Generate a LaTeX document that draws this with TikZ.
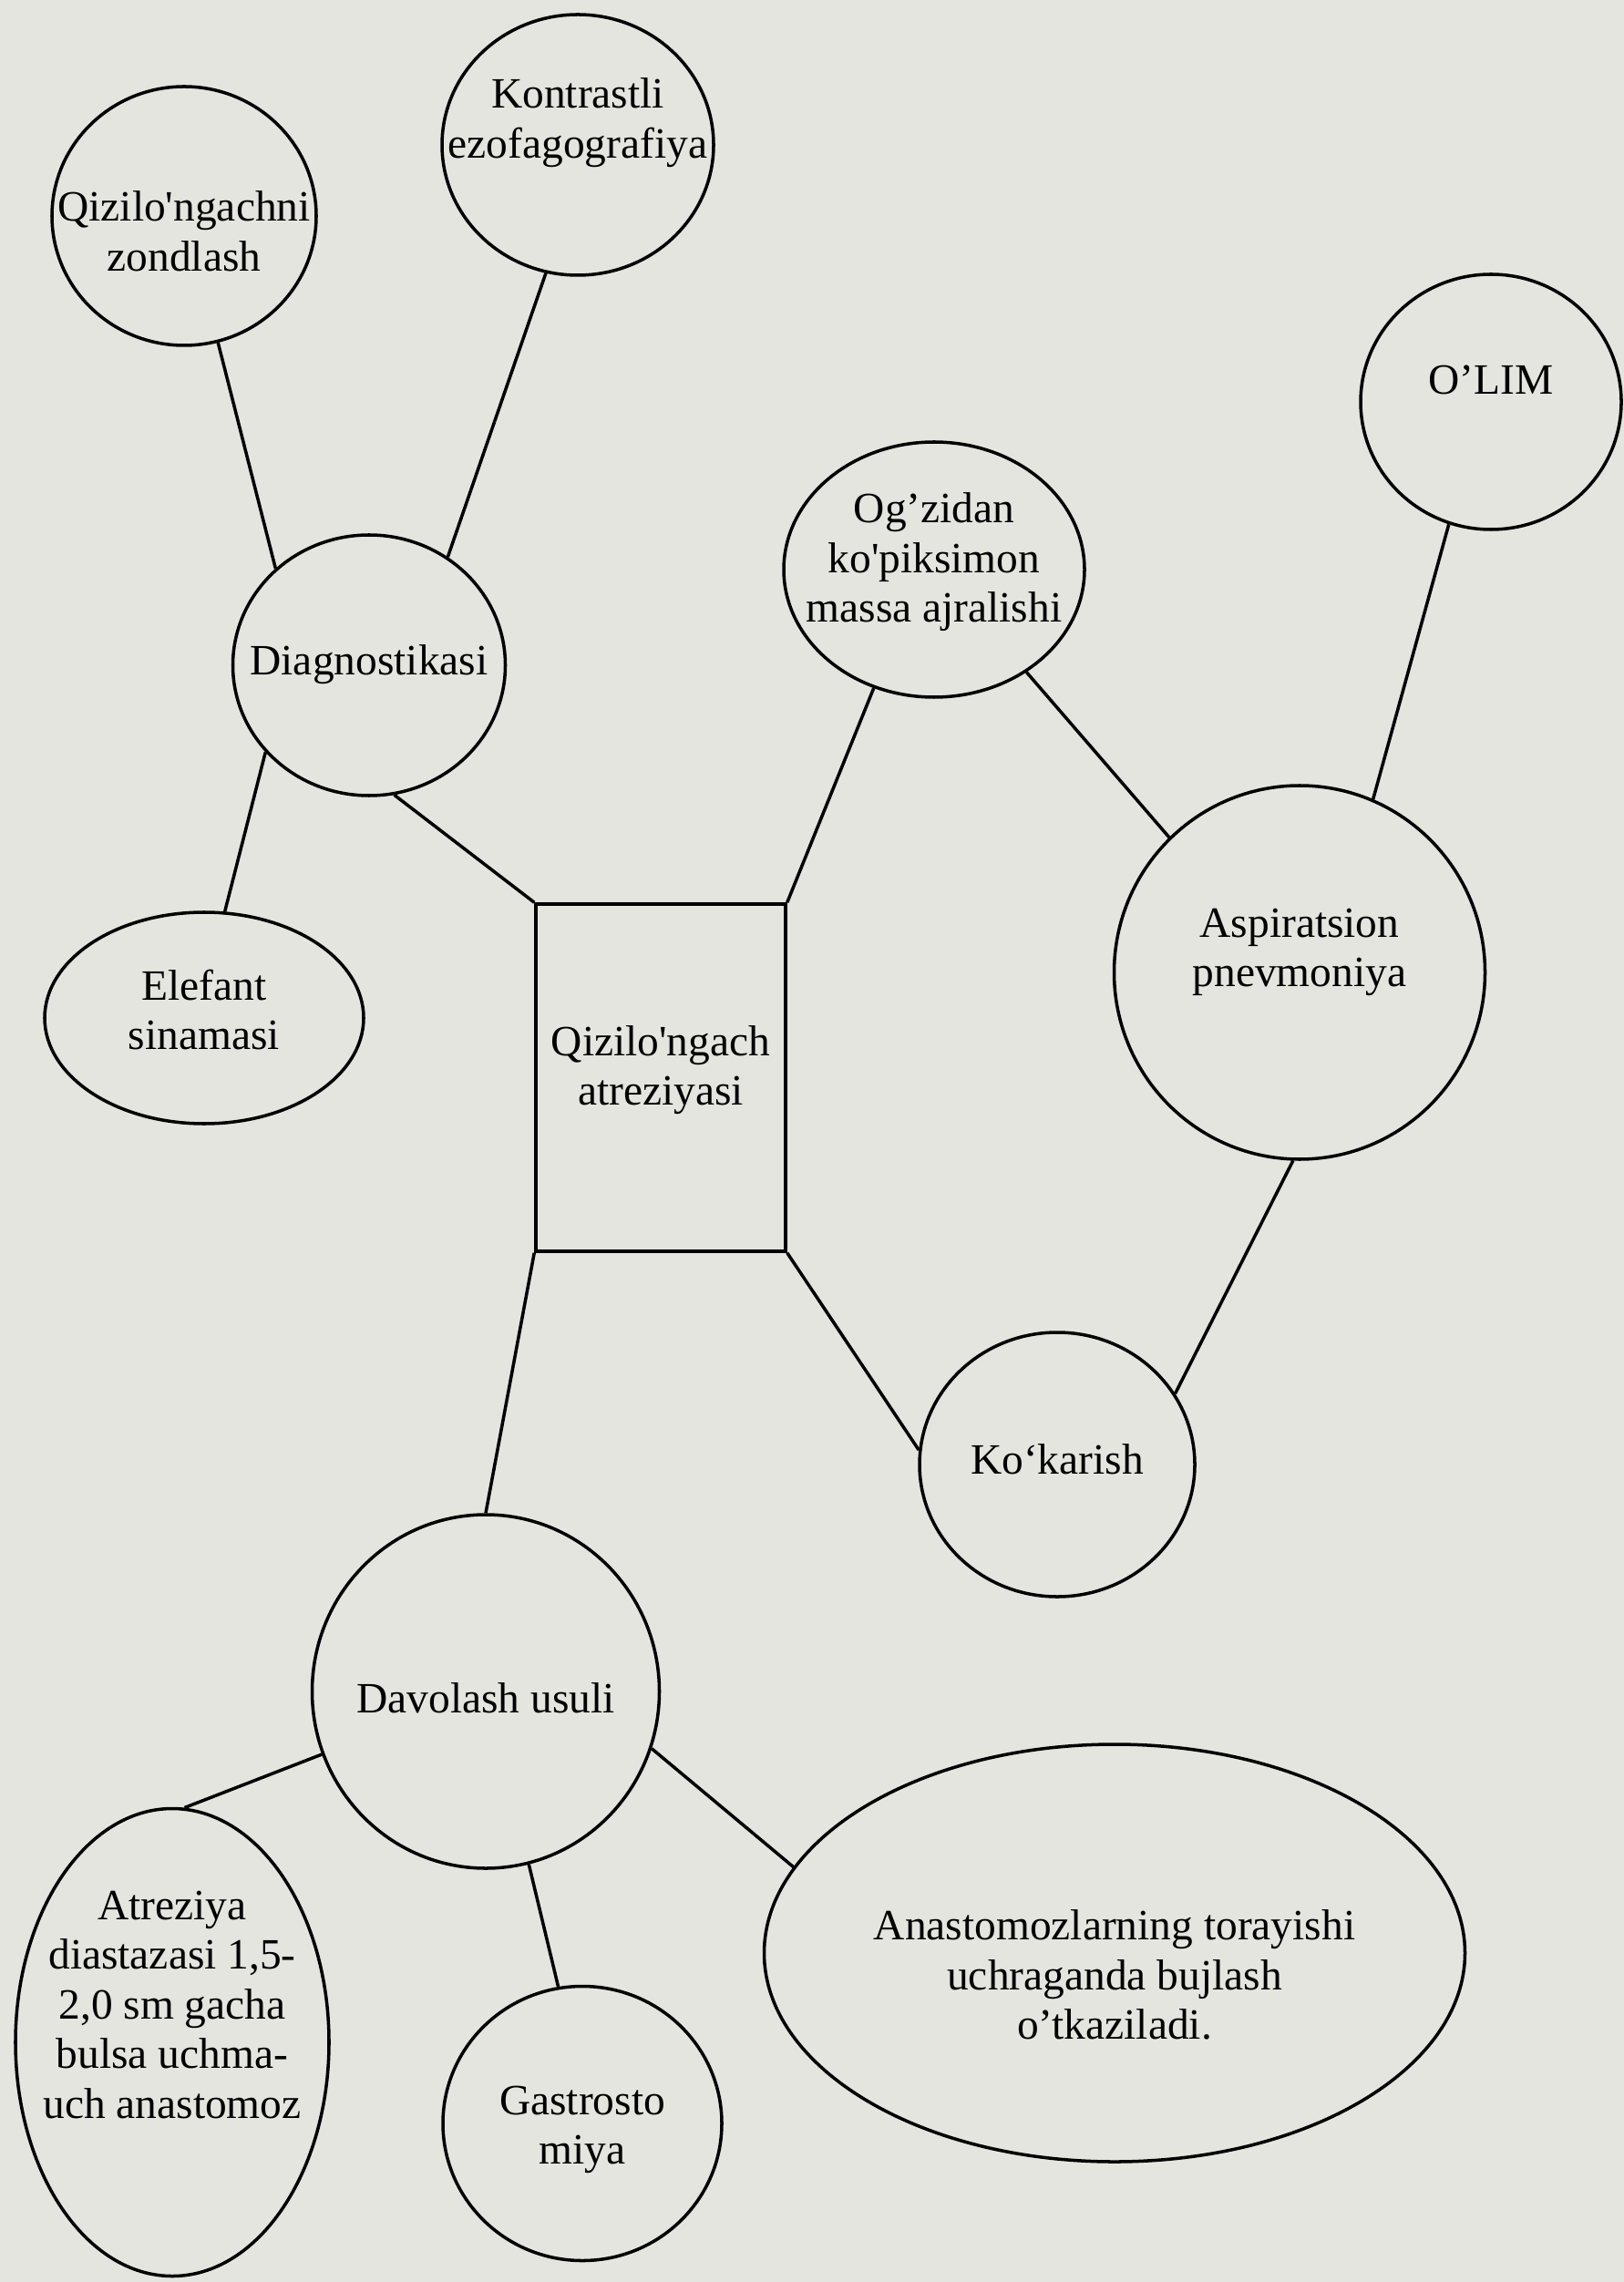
\documentclass[tikz,border=0pt]{standalone}
\usepackage{fontspec}
\newfontfamily\diafont{Liberation Serif}
\usetikzlibrary{shapes.geometric}
\definecolor{paper}{RGB}{229,229,223}
% text that may run over the outline, raised by the optional length
\newcommand{\bubbletext}[2][0pt]{\smash{\makebox[0pt]{\raisebox{#1}{\begin{tabular}{@{}c@{}}#2\end{tabular}}}}}

\begin{document}
\begin{tikzpicture}[font=\diafont\fontsize{13.5}{15.5}\selectfont, line width=1pt,
  bubble/.style={draw, ellipse, inner sep=0pt},
  box/.style={draw, rectangle, inner sep=0pt}]
\fill[paper] (0,0) rectangle (17.82,-25.04);
\useasboundingbox (0,0) rectangle (17.82,-25.04);
\node[bubble, minimum width=2.90cm, minimum height=2.84cm] (zond) at (2.02,-2.37) {\bubbletext[-0.35cm]{Qizilo'ngachni\\zondlash}};
\node[bubble, minimum width=2.98cm, minimum height=2.86cm] (kontr) at (6.34,-1.59) {\bubbletext[0.11cm]{Kontrastli\\ezofagografiya}};
\node[bubble, minimum width=2.99cm, minimum height=2.86cm] (diag) at (4.05,-7.30) {\bubbletext[-0.12cm]{Diagnostikasi}};
\node[bubble, minimum width=3.50cm, minimum height=2.32cm] (elef) at (2.24,-11.17) {\bubbletext[-0.09cm]{Elefant\\sinamasi}};
\node[box, minimum width=2.74cm, minimum height=3.81cm] (atr) at (7.25,-11.825) {\bubbletext[-0.05cm]{Qizilo'ngach\\atreziyasi}};
\node[bubble, minimum width=3.30cm, minimum height=2.80cm] (ogz) at (10.25,-6.25) {\bubbletext[-0.05cm]{Og’zidan\\ko'piksimon\\massa ajralishi}};
\node[bubble, minimum width=2.86cm, minimum height=2.80cm] (olim) at (16.36,-4.41) {\bubbletext[0.07cm]{O’LIM}};
\node[bubble, minimum width=4.07cm, minimum height=4.10cm] (aspir) at (14.26,-10.67) {\bubbletext[0.10cm]{Aspiratsion\\pnevmoniya}};
\node[bubble, minimum width=3.02cm, minimum height=2.90cm] (kok) at (11.60,-16.07) {\bubbletext[-0.12cm]{Ko‘karish}};
\node[bubble, minimum width=3.81cm, minimum height=3.88cm] (dav) at (5.33,-18.56) {\bubbletext[-0.25cm]{Davolash usuli}};
\node[bubble, minimum width=3.44cm, minimum height=5.13cm] (diast) at (1.89,-22.41) {\bubbletext[0.24cm]{Atreziya\\diastazasi 1,5-\\2,0 sm gacha\\bulsa uchma-\\uch anastomoz}};
\node[bubble, minimum width=3.06cm, minimum height=3.01cm] (gastro) at (6.39,-23.30) {\bubbletext[-0.19cm]{Gastrosto\\miya}};
\node[bubble, minimum width=7.69cm, minimum height=4.58cm] (anast) at (12.23,-21.43) {\bubbletext[-0.42cm]{Anastomozlarning torayishi\\uchraganda bujlash\\o’tkaziladi.}};
\draw (zond.-75) -- (diag.134);
\draw (kontr.256) -- (diag.54);
\draw (diag.220) -- (elef.79);
\draw (diag.-79) -- (atr.north west);
\draw (atr.north east) -- (ogz.243);
\draw (ogz.-48) -- (aspir.134);
\draw (olim.251) -- (aspir.67);
\draw (aspir.-92) -- (kok.31);
\draw (atr.south east) -- (kok.174);
\draw (atr.south west) -- (dav.north);
\draw (dav.201) -- (diast.87);
\draw (dav.-76) -- (gastro.100);
\draw (dav.-19) -- (anast.165);
\end{tikzpicture}
\end{document}
